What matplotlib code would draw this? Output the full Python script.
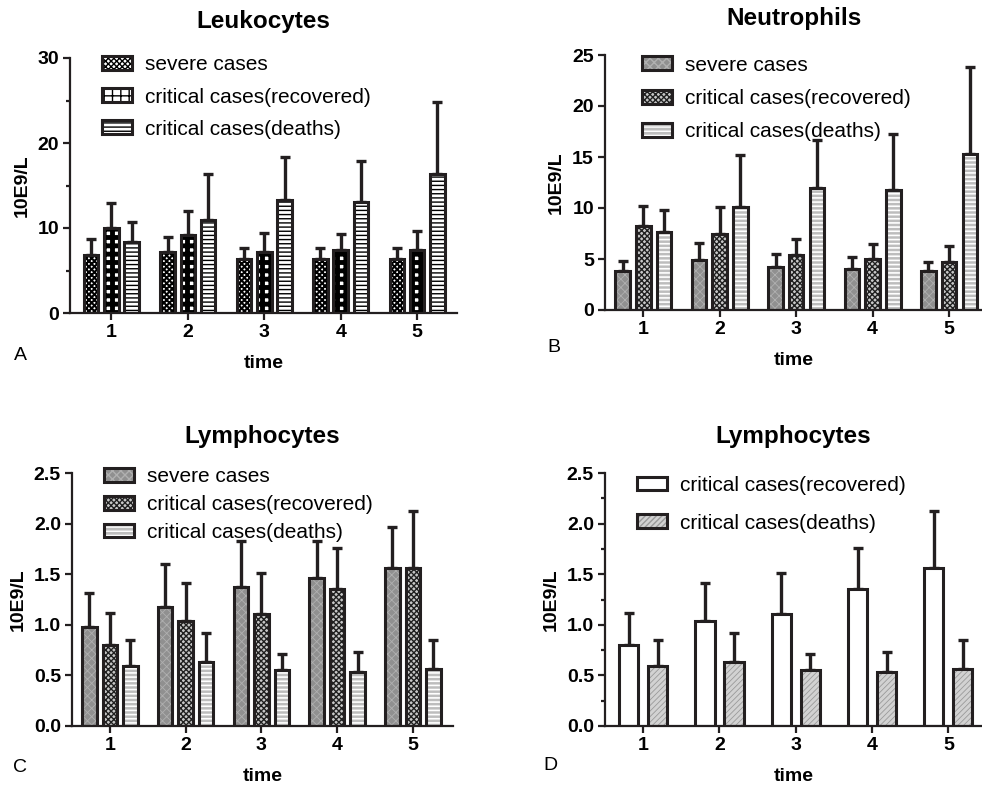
import numpy as np
import matplotlib.pyplot as plt
from matplotlib.colors import to_rgba

plt.rcParams['font.family'] = ['Liberation Sans', 'DejaVu Sans']

# ---- data (mean and upper SD) ----
times = [1, 2, 3, 4, 5]

leuko_severe = [6.8, 7.2, 6.4, 6.3, 6.3]
leuko_severe_sd = [1.9, 1.8, 1.3, 1.3, 1.3]
leuko_recov = [10.0, 9.2, 7.2, 7.4, 7.4]
leuko_recov_sd = [2.9, 2.8, 2.2, 1.9, 2.3]
leuko_death = [8.3, 11.0, 13.3, 13.1, 16.3]
leuko_death_sd = [2.4, 5.3, 5.1, 4.8, 8.5]

neut_severe = [3.8, 4.9, 4.2, 4.0, 3.8]
neut_severe_sd = [1.0, 1.7, 1.3, 1.2, 0.9]
neut_recov = [8.2, 7.5, 5.4, 5.0, 4.7]
neut_recov_sd = [2.0, 2.6, 1.6, 1.5, 1.6]
neut_death = [7.6, 10.1, 12.0, 11.8, 15.3]
neut_death_sd = [2.2, 5.1, 4.7, 5.5, 8.5]

lymph_severe = [0.98, 1.18, 1.37, 1.46, 1.56]
lymph_severe_sd = [0.33, 0.42, 0.46, 0.37, 0.41]
lymph_recov = [0.80, 1.04, 1.11, 1.35, 1.56]
lymph_recov_sd = [0.32, 0.37, 0.40, 0.41, 0.56]
lymph_death = [0.59, 0.63, 0.55, 0.53, 0.56]
lymph_death_sd = [0.26, 0.29, 0.16, 0.20, 0.29]

labels3 = ['severe cases', 'critical cases(recovered)', 'critical cases(deaths)']
labels2 = ['critical cases(recovered)', 'critical cases(deaths)']

W, H = 982, 788
fig = plt.figure(figsize=(W / 100, H / 100), dpi=100)
DARK = '#231f20'


def rect(x0, y0, x1, y1):
    return [x0 / W, 1 - y1 / H, (x1 - x0) / W, (y1 - y0) / H]


def panel(r, title, series, styles, labels, ylim, major, minor, xlim,
          width, step, leg_xy, leg_sp):
    ax = fig.add_axes(rect(*r))
    n = len(series)
    x = np.array(times, dtype=float)
    for i, ((m, sd), st, lab) in enumerate(zip(series, styles, labels)):
        xi = x + (i - (n - 1) / 2) * step
        fc, hatch, hc, hlw = st
        bars = ax.bar(xi, m, width, color=fc, edgecolor=DARK, linewidth=2.2,
                      hatch=hatch, label=lab, zorder=2)
        for p in bars:
            if hasattr(p, 'set_hatchcolor'):
                p.set_hatchcolor(hc)
            else:
                p._hatch_color = to_rgba(hc)
            if hasattr(p, 'set_hatch_linewidth'):
                p.set_hatch_linewidth(hlw)
        ax.errorbar(xi, m, yerr=[np.zeros(len(m)), sd], fmt='none',
                    ecolor=DARK, elinewidth=2.4, capsize=3.5, capthick=2.4,
                    zorder=1)
    ax.set_xlim(*xlim)
    ax.set_ylim(*ylim)
    ax.set_xticks(times)
    ax.set_yticks(np.arange(ylim[0], ylim[1] + major / 2, major))
    if minor:
        ax.set_yticks(np.arange(ylim[0], ylim[1] + minor / 2, minor), minor=True)
    for s in ['top', 'right']:
        ax.spines[s].set_visible(False)
    for s in ['left', 'bottom']:
        ax.spines[s].set_linewidth(1.6)
        ax.spines[s].set_color(DARK)
    ax.tick_params(axis='both', which='major', length=5, width=1.6,
                   labelsize=14, color=DARK, pad=3)
    ax.tick_params(axis='y', which='minor', length=3, width=1.6, color=DARK)
    for t in ax.get_xticklabels() + ax.get_yticklabels():
        t.set_fontweight('bold')
    ax.set_title(title, fontsize=17.5, fontweight='bold', pad=21.5)
    ax.set_xlabel('time', fontsize=14, fontweight='bold', labelpad=10)
    ax.set_ylabel('10E9/L', fontsize=14, fontweight='bold', labelpad=5)
    ax.legend(loc='upper left', bbox_to_anchor=leg_xy, frameon=False,
              fontsize=15, handlelength=1.45, handleheight=0.65,
              handletextpad=0.62, labelspacing=leg_sp, borderpad=0,
              borderaxespad=0)
    return ax


panel((70, 58, 457, 313), 'Leukocytes',
      [(leuko_severe, leuko_severe_sd), (leuko_recov, leuko_recov_sd),
       (leuko_death, leuko_death_sd)],
      [('white', 'xxxxxx', 'black', 1.5), ('white', '++', 'black', 3.5),
       ('white', '----', 'black', 1.0)],
      labels3, (0, 30), 10, 5, (0.46, 5.52), 0.19, 0.265, (0.083, 1.01), 0.63)

panel((605, 55, 982, 310), 'Neutrophils',
      [(neut_severe, neut_severe_sd), (neut_recov, neut_recov_sd),
       (neut_death, neut_death_sd)],
      [('#909090', 'xxxx', '#b0b0b0', 0.6), ('#c8c8c8', 'xxxxxx', '#202020', 1.0),
       ('#bdbdbd', '----', 'white', 1.2)],
      labels3, (0, 25), 5, None, (0.5, 5.43), 0.19, 0.27, (0.098, 0.997), 0.68)

panel((72, 473, 453, 726), 'Lymphocytes',
      [(lymph_severe, lymph_severe_sd), (lymph_recov, lymph_recov_sd),
       (lymph_death, lymph_death_sd)],
      [('#909090', 'xxxx', '#b0b0b0', 0.6), ('#c8c8c8', 'xxxxxx', '#202020', 1.0),
       ('#bdbdbd', '----', 'white', 1.2)],
      labels3, (0, 2.5), 0.5, None, (0.5, 5.53), 0.19, 0.27, (0.084, 1.024), 0.43)

panel((605, 473, 982, 726), 'Lymphocytes',
      [(lymph_recov, lymph_recov_sd), (lymph_death, lymph_death_sd)],
      [('white', '', 'black', 1.0), ('#d2d2d2', '//////', '#9a9a9a', 0.6)],
      labels2, (0, 2.5), 0.5, 0.25, (0.5, 5.44), 0.25, 0.38, (0.085, 0.989), 0.9)

for letter, (lx, ly) in zip('ABCD', [(20, 355), (554, 348), (20, 768), (550, 765)]):
    fig.text(lx / W, 1 - ly / H, letter, fontsize=14, ha='center', va='center')

fig.savefig('out.png', dpi=100)
